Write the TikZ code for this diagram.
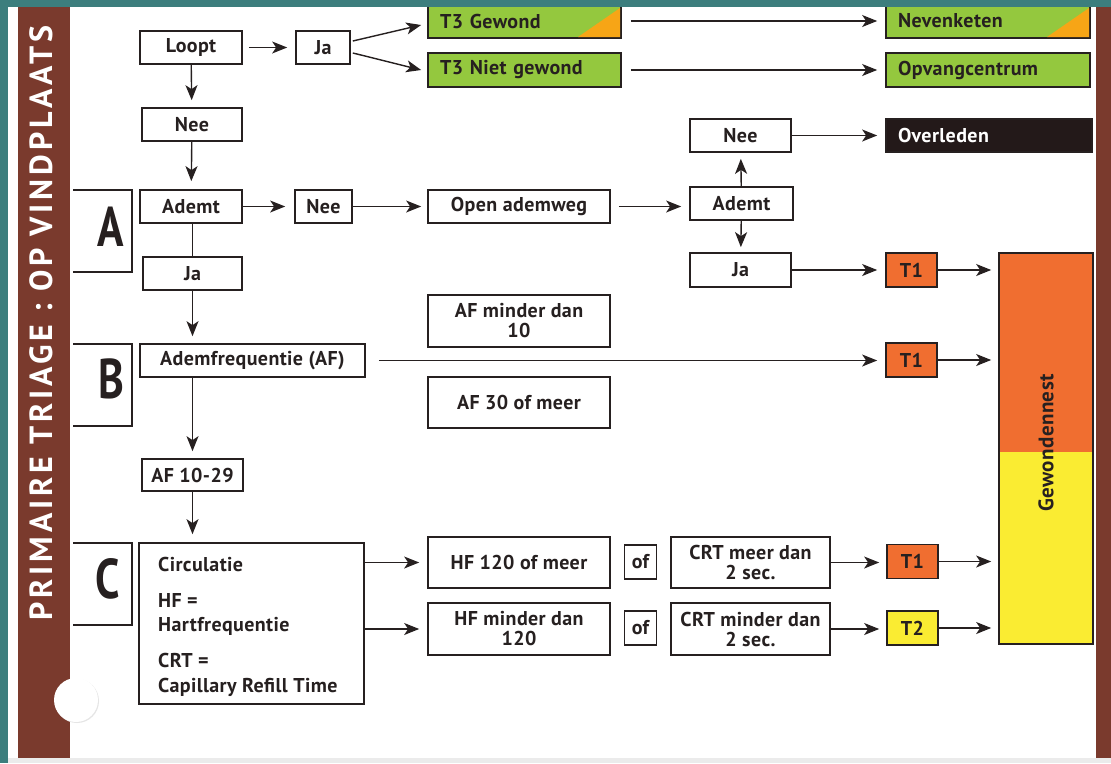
\documentclass[tikz,border=0pt]{standalone}
\usepackage{fontspec}
\setmainfont{PT Sans}[LetterSpace=2]
\newfontfamily\widefont{PT Sans}[LetterSpace=12]
\newfontfamily\bigfont{PT Sans}[FakeStretch=0.78]
\usetikzlibrary{arrows.meta,calc}
\definecolor{teal}{RGB}{60,126,125}
\definecolor{brown}{RGB}{122,58,45}
\definecolor{ink}{RGB}{38,32,32}
\definecolor{grn}{RGB}{148,200,62}
\definecolor{org}{RGB}{240,110,48}
\definecolor{ylw}{RGB}{250,236,50}
\definecolor{tri}{RGB}{247,165,22}
\definecolor{blk}{RGB}{35,25,25}
\tikzset{
  bx/.style={draw=ink, line width=1.7pt, fill=white, text=ink,
    font=\bfseries\fontsize{20}{20}\selectfont, inner sep=0pt, align=center},
  lbx/.style={bx, align=left, inner xsep=12pt},
  sz/.style 2 args={minimum width=#1, minimum height=#2},
  arr/.style={draw=ink, line width=1.4pt, -{Stealth[length=15pt,width=12pt,inset=4pt]}},
  ln/.style={draw=ink, line width=1.4pt},
  brk/.style={draw=ink, line width=1.5pt},
  big/.style={text=ink, font=\bigfont\bfseries\fontsize{56}{56}\selectfont, inner sep=0pt},
  ctext/.style={text=ink, font=\bfseries\fontsize{20}{20}\selectfont, inner sep=0pt, anchor=base west},
}
\begin{document}
\begin{tikzpicture}[x=1pt,y=1pt]
\useasboundingbox (0,0) rectangle (1111,-763);
% page
\fill[teal] (0,0) rectangle (1111,-763);
\fill[white] (8,-7) rectangle (1111,-763);
\fill[black!8] (8,-758) rectangle (1111,-763);
\fill[brown] (18,-7) rectangle (70,-758);
\fill[brown] (1096,-7) rectangle (1111,-758);
\fill[black!10] (77,-701) circle (22);
\fill[white] (76,-700) circle (22);
\node[rotate=90, text=white, font=\widefont\bfseries\fontsize{32}{32}\selectfont, inner sep=0pt] (side) at (41,-323) {PRIMAIRE TRIAGE : OP VINDPLAATS};

% brackets and letters
\draw[brk] (73,-190) -- (132,-190) -- (132,-272) -- (73,-272);
\draw[brk] (73,-344) -- (132,-344) -- (132,-426) -- (73,-426);
\draw[brk] (73,-543) -- (132,-543) -- (132,-625) -- (73,-625);
\node[big] (la) at (111,-227) {A};
\node[big] (lb) at (111,-379) {B};
\node[big] (lc) at (108,-579) {C};

% Gewondennest
\fill[org] (999,-253) rectangle (1093,-452);
\fill[ylw] (999,-452) rectangle (1093,-644);
\node[draw=ink, line width=1.7pt, sz={94pt}{391pt}] (gn) at (1046,-448.5) {};
\node[rotate=90, text=ink, font=\bfseries\fontsize{21}{21}\selectfont, inner sep=0pt] (gnt) at (1046,-443) {Gewondennest};

% top row
\node[bx, sz={102pt}{33pt}] (loopt) at (191,-47.5) {Loopt};
\node[bx, sz={54pt}{33pt}] (jatop) at (323,-47.5) {Ja};
\node[lbx, fill=grn, text width=169pt, sz={193pt}{34pt}] (t3g) at (524.5,-21) {T3 Gewond};
\fill[tri] (578,-37) -- (620,-37) -- (620,-8) -- cycle;
\node[lbx, fill=grn, text width=169pt, sz={193pt}{34pt}] (t3n) at (524.5,-70) {T3 Niet gewond};
\node[lbx, fill=grn, text width=180pt, sz={204pt}{34pt}] (nev) at (988,-21) {Nevenketen};
\fill[tri] (1047,-37) -- (1089,-37) -- (1089,-8) -- cycle;
\node[lbx, fill=grn, text width=180pt, sz={204pt}{34pt}] (opv) at (988,-70) {Opvangcentrum};

\node[bx, sz={100pt}{33pt}] (nee1) at (192,-124.5) {Nee};
\node[bx, sz={102pt}{33pt}] (ademt1) at (191,-206.5) {Ademt};
\node[bx, sz={57pt}{33pt}] (nee2) at (323.5,-206.5) {Nee};
\node[bx, sz={182pt}{33pt}] (open) at (519,-206.5) {Open ademweg};
\node[bx, sz={103pt}{33pt}] (ademt2) at (741.5,-203.5) {Ademt};
\node[bx, sz={101pt}{33pt}] (nee3) at (740.5,-135.5) {Nee};
\node[lbx, fill=blk, text=white, text width=182pt, sz={206pt}{33pt}] (overl) at (989,-135.5) {Overleden};
\node[bx, sz={101pt}{34pt}] (jar) at (740.5,-270) {Ja};
\node[bx, fill=org, sz={51pt}{34pt}] (t1a) at (911.5,-270) {T1};
\node[bx, sz={99pt}{33pt}] (jal) at (192.5,-273.5) {Ja};
\node[bx, sz={225pt}{33pt}] (af) at (252.5,-360.5) {Ademfrequentie (AF)};
\node[bx, sz={182pt}{52pt}] (afm) at (519,-321) {AF minder dan\\10};
\node[bx, sz={182pt}{51pt}] (af30) at (519,-402.5) {AF 30 of meer};
\node[bx, fill=org, sz={51pt}{34pt}] (t1b) at (911.5,-360) {T1};
\node[bx, sz={101pt}{32pt}] (af1029) at (192.5,-475) {AF 10-29};

% C block
\node[bx, sz={225pt}{161pt}] (circ) at (251.5,-623.5) {};
\node[ctext] (c1) at (158,-571) {Circulatie};
\node[ctext] (c2) at (158,-607) {HF =};
\node[ctext] (c3) at (158,-631) {Hartfrequentie};
\node[ctext] (c4) at (158,-667) {CRT =};
\node[ctext] (c5) at (158,-692) {Capillary Refill Time};
\node[bx, sz={182pt}{51pt}] (hf1) at (519,-562.5) {HF 120 of meer};
\node[bx, sz={182pt}{52pt}] (hf2) at (519,-629) {HF minder dan\\120};
\node[bx, sz={32pt}{34pt}] (of1) at (640.5,-562) {of};
\node[bx, sz={32pt}{34pt}] (of2) at (640.5,-628) {of};
\node[bx, sz={159pt}{51pt}] (crt1) at (750.5,-562.5) {CRT meer dan\\2 sec.};
\node[bx, sz={159pt}{52pt}] (crt2) at (750.5,-629) {CRT minder dan\\2 sec.};
\node[bx, fill=org, sz={51pt}{34pt}] (t1c) at (912.5,-561.5) {T1};
\node[bx, fill=ylw, sz={51pt}{34pt}] (t2) at (912.5,-628) {T2};

% connectors
\draw[arr, shorten <=6pt, shorten >=8pt] (loopt) -- (jatop);
\draw[arr] ($(jatop.east)+(2,6.5)$) -- ($(t3g.west)+(-6,-4)$);
\draw[arr] ($(jatop.east)+(2,-5.5)$) -- ($(t3n.west)+(-6,0)$);
\draw[arr, shorten <=9pt, shorten >=8pt] (t3g) -- (nev);
\draw[arr, shorten <=9pt, shorten >=8pt] (t3n) -- (opv);
\draw[arr, shorten >=7pt] (loopt) -- (nee1);
\draw[arr, shorten >=8pt] (nee1) -- (ademt1);
\draw[arr, shorten >=9pt] (ademt1) -- (nee2);
\draw[arr, shorten >=6pt] (nee2) -- (open);
\draw[arr, shorten <=8pt, shorten >=8pt] (open.east) -- (ademt2.west |- open.east);
\draw[arr, shorten >=6pt] (ademt2) -- (nee3);
\draw[arr, shorten >=5pt] (ademt2) -- (jar);
\draw[arr, shorten >=8pt] (nee3) -- (overl);
\draw[arr, shorten >=8pt] (jar) -- (t1a);
\draw[arr, shorten >=7pt] (t1a.east) -- (gn.west |- t1a.east);
\draw[ln] (ademt1.south -| jal.north) -- (jal.north);
\draw[arr, shorten >=7pt] (jal) -- (af.north -| jal.south);
\draw[arr, shorten >=7pt] (af.south -| jal.south) -- (af1029);
\draw[arr, shorten >=8pt] (af1029) -- (circ.north -| af1029.south);
\draw[arr, shorten <=13pt, shorten >=8pt] (af.east) -- (t1b.west |- af.east);
\draw[arr, shorten >=7pt] (t1b.east) -- (gn.west |- t1b.east);
\draw[arr, shorten >=8pt] (circ.east |- hf1.west) -- (hf1.west);
\draw[arr, shorten >=8pt] (circ.east |- hf2.west) -- (hf2.west);
\draw[arr, shorten >=7pt] (crt1.east) -- (t1c.west |- crt1.east);
\draw[arr, shorten >=7pt] (crt2.east) -- (t2.west |- crt2.east);
\draw[arr, shorten >=7pt] (t1c.east) -- (gn.west |- t1c.east);
\draw[arr, shorten >=7pt] (t2.east) -- (gn.west |- t2.east);

% top band over everything
\fill[teal] (0,0) rectangle (1111,-7);
\end{tikzpicture}
\end{document}
